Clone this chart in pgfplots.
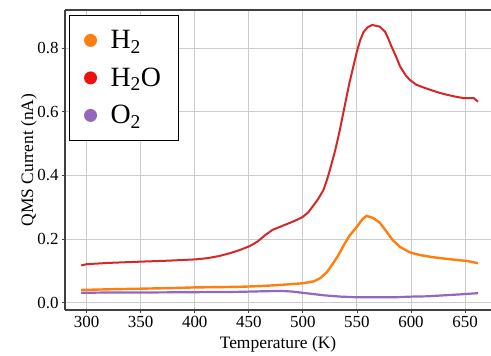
\documentclass[border=0pt]{standalone}
\usepackage{fontspec}
\setmainfont{Liberation Serif}
\usepackage{pgfplots}
\pgfplotsset{compat=1.18}
\definecolor{cH}{HTML}{FF7F0E}
\definecolor{cW}{HTML}{D62728}
\definecolor{cWl}{HTML}{F01010}
\definecolor{cO}{HTML}{9467BD}
\definecolor{gridc}{HTML}{CCCCCC}
\definecolor{framec}{HTML}{404040}
\begin{document}
\begin{tikzpicture}
\begin{axis}[
  at={(0,0)}, anchor=south west,
  width=426bp, height=300bp, scale only axis,
  xmin=280, xmax=674, ymin=-0.023, ymax=0.920,
  xtick={300,350,...,650}, ytick={0,0.2,0.4,0.6,0.8},
  yticklabel style={/pgf/number format/.cd, fixed, fixed zerofill, precision=1},
  /pgf/number format/assume math mode=true,
  ticklabel style={font=\fontsize{17}{20}\selectfont},
  separate axis lines,
  axis x line=box, axis y line=left,
  axis line style={framec, line width=1.1pt, -},
  tick align=outside, tick pos=left, major tick length=3bp,
  tick style={framec, line width=0.8pt},
  grid=major, grid style={gridc, line width=0.9pt},
  xlabel={Temperature (K)}, ylabel={QMS Current (nA)},
  every axis x label/.style={at={(axis description cs:0.5,-0.127)}, anchor=base, font=\fontsize{17.5}{20}\selectfont},
  every axis y label/.style={at={(axis description cs:-0.0751,0.5)}, anchor=base, rotate=90, font=\fontsize{17.5}{20}\selectfont},
  legend style={at={(axis description cs:0.0094,0.983)}, anchor=north west,
    draw=black, line width=1.1pt, fill=white,
    font=\fontsize{28}{30}\selectfont, row sep=0pt, column sep=0pt,
    inner xsep=0pt, inner ysep=6bp,
    nodes={inner sep=0pt, text width=68bp, align=left, minimum height=37.5bp}},
  legend cell align=left,
]
\addplot[cH, line width=2.4bp, forget plot] coordinates {
(295,0.040)(320,0.042)(350,0.044)(380,0.046)(400,0.048)(425,0.049)(442,0.050)(460,0.052)(480,0.056)(500,0.061)(510,0.067)(516,0.077)(522,0.095)(528,0.124)(533,0.150)(537,0.176)(543,0.210)(550,0.239)(555,0.262)(559,0.273)(565,0.266)(571,0.252)(577,0.225)(583,0.197)(590,0.175)(599,0.158)(608,0.150)(620,0.143)(635,0.137)(652,0.131)(662,0.124)
};
\addplot[cW, line width=2.0bp, forget plot] coordinates {
(295,0.117)(300,0.121)(320,0.125)(350,0.129)(375,0.132)(400,0.136)(412,0.140)(423,0.147)(433,0.156)(442,0.166)(451,0.178)(458,0.192)(465,0.212)(472,0.229)(480,0.240)(488,0.251)(495,0.261)(500,0.270)(505,0.284)(509,0.302)(514,0.325)(519,0.354)(522,0.383)(525,0.417)(530,0.480)(534,0.540)(537,0.590)(543,0.690)(550,0.790)(553,0.825)(556,0.850)(560,0.866)(564,0.873)(568,0.870)(571,0.868)(576,0.852)(579,0.830)(582,0.805)(586,0.775)(590,0.742)(595,0.715)(599,0.700)(605,0.685)(612,0.676)(618,0.669)(626,0.660)(634,0.653)(642,0.647)(649,0.643)(658,0.643)(662,0.632)
};
\addplot[cO, line width=2.2bp, forget plot] coordinates {
(295,0.031)(320,0.032)(350,0.032)(400,0.033)(440,0.034)(465,0.036)(480,0.037)(490,0.035)(500,0.031)(510,0.027)(520,0.023)(535,0.019)(550,0.017)(570,0.017)(585,0.017)(600,0.019)(615,0.020)(630,0.023)(645,0.026)(662,0.030)
};
\addlegendimage{legend image code/.code={\path[draw=none,fill=none] (-21bp,0) -- (20bp,0); \fill[cH, draw=none] (0,0) circle (6.5bp);}}
\addlegendentry{H\textsubscript{2}}
\addlegendimage{legend image code/.code={\path[draw=none,fill=none] (-21bp,0) -- (20bp,0); \fill[cWl, draw=none] (0,0) circle (6.5bp);}}
\addlegendentry{H\textsubscript{2}O}
\addlegendimage{legend image code/.code={\path[draw=none,fill=none] (-21bp,0) -- (20bp,0); \fill[cO, draw=none] (0,0) circle (6.5bp);}}
\addlegendentry{O\textsubscript{2}}
\end{axis}
\pgfresetboundingbox
\useasboundingbox (-65bp,-46bp) rectangle (426bp,310bp);
\end{tikzpicture}
\end{document}
